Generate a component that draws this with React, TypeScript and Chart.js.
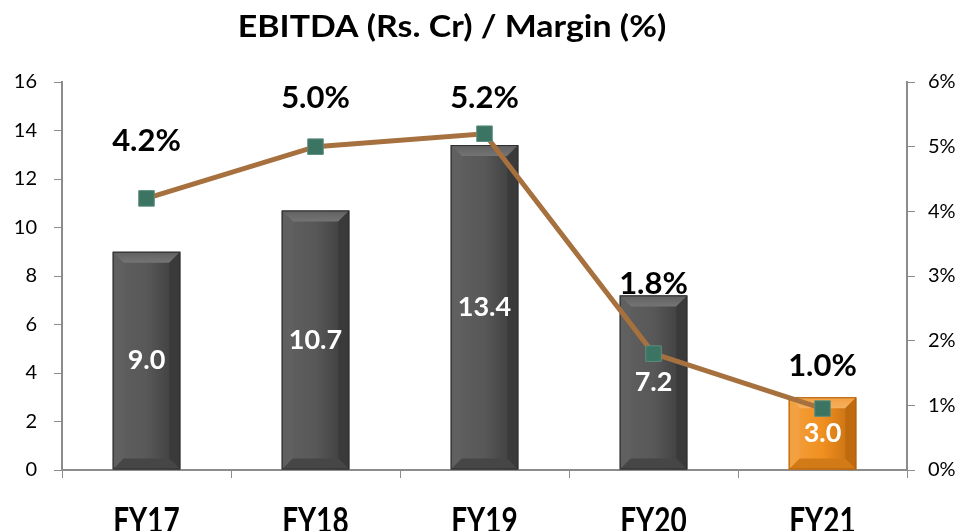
import React, { useEffect, useRef } from "react";
import { Chart, registerables } from "chart.js";

Chart.register(...registerables);

const categories = ["FY17", "FY18", "FY19", "FY20", "FY21"];
const ebitda = [9.0, 10.7, 13.4, 7.2, 3.0];
const margin = [4.2, 5.0, 5.2, 1.8, 0.95];
const marginLabels = ["4.2%", "5.0%", "5.2%", "1.8%", "1.0%"];
const ebitdaLabels = ["9.0", "10.7", "13.4", "7.2", "3.0"];
const titleText = "EBITDA (Rs. Cr) / Margin (%)";

const FONT = "Lato, 'Open Sans', sans-serif";

// vertical offsets of margin labels above their points (px)
const marginLabelLift = [57, 49, 36, 70, 43];

const grayPalette = { body: "#585858", top: "#747474", left: "#606060", right: "#3a3a3a", bottom: "#464646", edge: "#2e2e2e" };
const orangePalette = { body: "#F0901F", top: "#F6B060", left: "#F3A040", right: "#C06A10", bottom: "#D27A16", edge: "#B0600C" };

export default function App() {
  const ref = useRef<HTMLCanvasElement | null>(null);

  useEffect(() => {
    document.body.style.margin = "0";
    const canvas = ref.current!;

    const bevelPlugin = {
      id: "bevel",
      afterDatasetDraw(chart: any, args: any) {
        if (args.index !== 0) return;
        const ctx = chart.ctx;
        const meta = chart.getDatasetMeta(0);
        meta.data.forEach((bar: any, i: number) => {
          const p = i === 4 ? orangePalette : grayPalette;
          const x0 = bar.x - bar.width / 2;
          const x1 = bar.x + bar.width / 2;
          const y0 = bar.y;
          const y1 = bar.base;
          const b = Math.min(11, (y1 - y0) / 2);
          ctx.save();
          const g = ctx.createLinearGradient(x0, 0, x1, 0);
          g.addColorStop(0, p.left);
          g.addColorStop(0.5, p.body);
          g.addColorStop(1, p.right);
          ctx.fillStyle = g;
          ctx.fillRect(x0, y0, x1 - x0, y1 - y0);
          const poly = (pts: number[][], color: string | CanvasGradient) => {
            ctx.beginPath();
            ctx.moveTo(pts[0][0], pts[0][1]);
            for (let k = 1; k < pts.length; k++) ctx.lineTo(pts[k][0], pts[k][1]);
            ctx.closePath();
            ctx.fillStyle = color;
            ctx.fill();
          };
          const tg = ctx.createLinearGradient(0, y0, 0, y0 + b);
          tg.addColorStop(0, p.left);
          tg.addColorStop(1, p.top);
          poly([[x0, y0], [x1, y0], [x1 - b, y0 + b], [x0 + b, y0 + b]], tg);
          poly([[x0, y0], [x0 + b, y0 + b], [x0 + b, y1 - b], [x0, y1]], p.left);
          poly([[x1, y0], [x1 - b, y0 + b], [x1 - b, y1 - b], [x1, y1]], p.right);
          poly([[x0, y1], [x0 + b, y1 - b], [x1 - b, y1 - b], [x1, y1]], p.bottom);
          ctx.strokeStyle = p.edge;
          ctx.lineWidth = 1;
          ctx.strokeRect(x0 + 0.5, y0 + 0.5, x1 - x0 - 1, y1 - y0 - 1);
          ctx.restore();
        });
      },
    };

    const labelPlugin = {
      id: "labels",
      afterDatasetsDraw(chart: any) {
        const ctx = chart.ctx;
        ctx.save();
        ctx.textAlign = "center";
        ctx.textBaseline = "middle";
        const bars = chart.getDatasetMeta(0).data;
        ctx.fillStyle = "#ffffff";
        ctx.font = `bold 27px ${FONT}`;
        bars.forEach((bar: any, i: number) => {
          ctx.fillText(ebitdaLabels[i], bar.x, (bar.y + bar.base) / 2);
        });
        const pts = chart.getDatasetMeta(1).data;
        ctx.fillStyle = "#000000";
        ctx.font = `bold 31px ${FONT}`;
        pts.forEach((pt: any, i: number) => {
          ctx.fillText(marginLabels[i], pt.x, pt.y - marginLabelLift[i]);
        });
        // title
        ctx.font = `bold 30px ${FONT}`;
        ctx.save();
        ctx.translate(452, 27);
        ctx.scale(1.13, 1);
        ctx.fillText(titleText, 0, 0);
        ctx.restore();
        // x category labels (tall, narrow)
        const xs = chart.scales.x;
        ctx.font = `bold 28px ${FONT}`;
        ctx.textBaseline = "alphabetic";
        categories.forEach((c, i) => {
          const x = xs.getPixelForValue(i);
          ctx.save();
          ctx.translate(x, 533);
          ctx.scale(1, 1.3);
          ctx.fillText(c, 0, 0);
          ctx.restore();
        });
        ctx.restore();
      },
    };

    const chart = new Chart(canvas, {
      data: {
        labels: categories,
        datasets: [
          {
            type: "bar",
            data: ebitda,
            yAxisID: "y",
            backgroundColor: "rgba(0,0,0,0)",
            borderWidth: 0,
            barPercentage: 0.8,
            categoryPercentage: 0.5,
            order: 2,
          },
          {
            type: "line",
            data: margin,
            yAxisID: "y1",
            borderColor: "#A6713E",
            borderWidth: 5,
            pointStyle: "rect",
            pointRadius: 11,
            pointBackgroundColor: "#3B7462",
            pointBorderColor: "#5B8E7E",
            pointBorderWidth: 1,
            tension: 0,
            order: 1,
          },
        ],
      } as any,
      options: {
        responsive: false,
        animation: false,
        layout: { padding: { top: 82, left: 0, right: 0, bottom: 0 } },
        plugins: {
          legend: { display: false },
          title: { display: false },
          tooltip: { enabled: false },
        },
        scales: {
          x: {
            grid: { display: true, drawOnChartArea: false, drawTicks: true, tickLength: 8, color: "#8c8c8c", offset: true },
            border: { display: true, color: "#8c8c8c", width: 2 },
            ticks: { display: false },
            afterFit: (s: any) => { s.height = 61; },
          },
          y: {
            position: "left",
            min: 0,
            max: 16,
            ticks: { stepSize: 2, color: "#000", font: { family: FONT, size: 20 }, padding: 17 },
            grid: { display: true, drawOnChartArea: false, drawTicks: true, tickLength: 8, color: "#8c8c8c" },
            border: { display: true, color: "#8c8c8c", width: 2 },
            afterFit: (s: any) => { s.width = 62; },
          },
          y1: {
            position: "right",
            min: 0,
            max: 6,
            ticks: { stepSize: 1, color: "#000", font: { family: FONT, size: 20 }, padding: 13, callback: (v: any) => `${v}%` },
            grid: { display: true, drawOnChartArea: false, drawTicks: true, tickLength: 8, color: "#8c8c8c" },
            border: { display: true, color: "#8c8c8c", width: 2 },
            afterFit: (s: any) => { s.width = 62; },
          },
        },
      } as any,
      plugins: [bevelPlugin, labelPlugin],
    });
    return () => chart.destroy();
  }, []);

  return (
    <div style={{ width: 969, height: 531, background: "#fff" }}>
      <canvas ref={ref} width={969} height={531} style={{ display: "block" }} />
    </div>
  );
}
